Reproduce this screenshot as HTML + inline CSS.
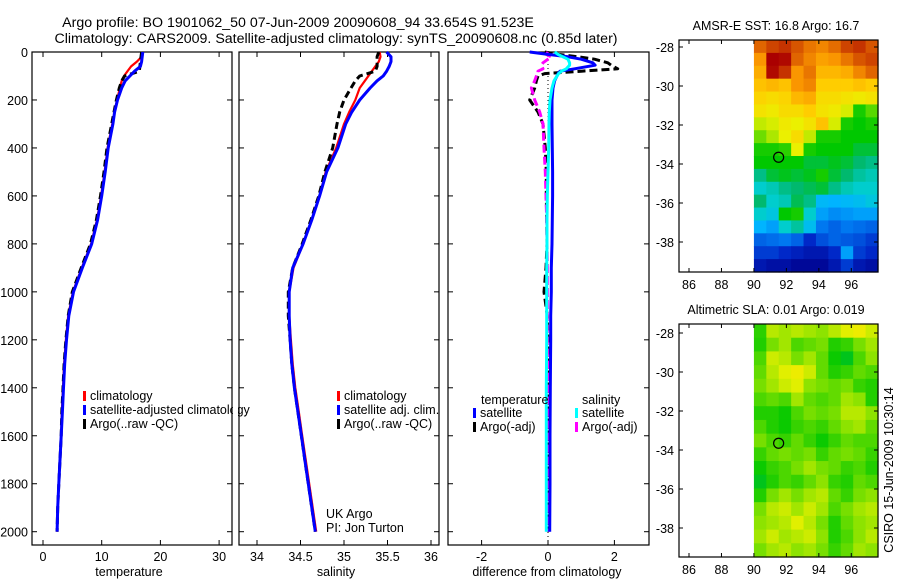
<!DOCTYPE html>
<html><head><meta charset="utf-8">
<style>
body{margin:0;background:#fff;}
svg{display:block;font-family:"Liberation Sans",sans-serif;}
text{fill:#000;}
</style></head>
<body>
<svg id="fig" width="900" height="580" viewBox="0 0 900 580" xmlns="http://www.w3.org/2000/svg">
<text x="298" y="27" font-size="14.2" text-anchor="middle">Argo profile: BO 1901062_50 07-Jun-2009 20090608_94 33.654S 91.523E</text>
<text x="336" y="43" font-size="14.2" text-anchor="middle">Climatology: CARS2009. Satellite-adjusted climatology: synTS_20090608.nc (0.85d later)</text>
<g id="plots"></g>
</svg>
<script>
// ---------- data ----------
const depthT = [0,20,40,60,80,100,120,150,200,250,300,400,500,600,700,800,900,1000,1100,1200,1300,1400,1500,1600,1700,1800,1900,2000];
const tempClim = [16.9,16.8,16.0,15.0,14.4,13.8,13.4,13.1,12.6,12.2,11.8,11.0,10.5,9.9,9.2,8.2,6.6,5.1,4.3,3.9,3.6,3.4,3.2,3.1,2.9,2.7,2.5,2.4];
const tempSat  = [17.0,16.9,16.8,16.6,15.6,14.8,14.0,13.4,12.7,12.2,11.9,11.1,10.6,10.0,9.3,8.3,6.7,5.2,4.4,4.0,3.7,3.5,3.3,3.1,2.9,2.7,2.5,2.4];
const tempArgo = [16.8,16.7,16.6,16.5,16.4,13.9,13.4,13.0,12.5,12.1,11.7,10.9,10.4,9.8,9.1,8.1,6.5,5.0,4.3,3.9,3.6,3.4,3.2,3.1,2.9,2.7,2.5,2.4];
const salClim = [35.41,35.42,35.40,35.36,35.32,35.28,35.24,35.18,35.13,35.06,35.00,34.91,34.79,34.72,34.63,34.53,34.42,34.37,34.37,34.39,34.41,34.44,34.48,34.52,34.56,34.60,34.64,34.68];
const salSat  = [35.49,35.54,35.54,35.52,35.49,35.45,35.38,35.30,35.18,35.09,35.02,34.93,34.80,34.72,34.63,34.53,34.41,34.37,34.37,34.38,34.40,34.43,34.47,34.51,34.55,34.59,34.63,34.67];
const salArgo = [35.40,35.38,35.38,35.38,35.36,35.18,35.13,35.08,35.00,34.95,34.92,34.87,34.78,34.71,34.62,34.52,34.41,34.36,34.36,34.38,34.40,34.43,34.47,34.51,34.55,34.59,34.63,34.67];
const depthD = [0,10,20,30,45,55,70,80,90,100,120,150,200,250,300,400,500,600,700,800,900,1000,1100,1200,1400,1600,1800,2000];
const dTempSat = [-0.55,0.0,0.6,1.0,1.35,1.42,0.8,0.36,0.3,0.27,0.2,0.15,0.12,0.12,0.12,0.13,0.14,0.14,0.13,0.12,0.1,0.1,0.08,0.08,0.07,0.06,0.06,0.05];
const dTempArgo = [-0.1,0.3,0.9,1.4,1.8,1.9,2.1,1.0,-0.1,-0.3,-0.35,-0.4,-0.55,-0.3,-0.15,-0.08,-0.05,-0.05,-0.04,-0.03,-0.06,-0.12,-0.02,0.0,0.01,0.02,0.0,0.0];
const dSalSat = [0.2,0.3,0.45,0.6,0.65,0.65,0.55,0.4,0.32,0.27,0.18,0.12,0.06,0.04,0.03,0.02,0.0,-0.02,-0.03,-0.03,-0.04,-0.04,-0.04,-0.04,-0.05,-0.05,-0.05,-0.05];
const dSalArgo = [0.0,-0.05,0.1,0.0,-0.15,-0.2,-0.15,-0.3,-0.3,-0.35,-0.4,-0.5,-0.4,-0.25,-0.15,-0.12,-0.08,-0.06,-0.04,-0.03,-0.02,-0.02,-0.02,-0.02,-0.01,-0.01,0.0,0.0];
const depthTicks = [0,200,400,600,800,1000,1200,1400,1600,1800,2000];
const tempTicks = [0,10,20,30];
const salTicks = [34,34.5,35,35.5,36];
const diffTicks = [-2,0,2];
const lonTicks = [86,88,90,92,94,96];
const latTicks = [-28,-30,-32,-34,-36,-38];
const sstGrid = [
[0.86,0.90,0.92,0.88,0.84,0.82,0.85,0.90,0.92,0.88],
[0.80,0.98,0.97,0.86,0.82,0.78,0.80,0.84,0.88,0.90],
[0.76,0.97,0.92,0.80,0.84,0.74,0.74,0.76,0.82,0.86],
[0.72,0.74,0.72,0.80,0.82,0.70,0.70,0.70,0.72,0.70],
[0.68,0.66,0.68,0.74,0.76,0.66,0.66,0.64,0.62,0.64],
[0.64,0.62,0.66,0.66,0.70,0.64,0.62,0.58,0.40,0.46],
[0.56,0.58,0.62,0.60,0.64,0.72,0.58,0.40,0.38,0.40],
[0.48,0.54,0.60,0.66,0.56,0.40,0.40,0.38,0.38,0.38],
[0.40,0.40,0.42,0.60,0.40,0.38,0.38,0.38,0.36,0.36],
[0.38,0.38,0.38,0.38,0.36,0.36,0.37,0.36,0.34,0.33],
[0.33,0.36,0.37,0.36,0.37,0.40,0.36,0.34,0.32,0.31],
[0.30,0.31,0.33,0.34,0.35,0.36,0.33,0.31,0.30,0.30],
[0.34,0.30,0.31,0.35,0.33,0.25,0.24,0.25,0.26,0.28],
[0.30,0.28,0.38,0.40,0.30,0.22,0.20,0.21,0.22,0.22],
[0.24,0.22,0.30,0.32,0.26,0.18,0.16,0.18,0.17,0.16],
[0.16,0.17,0.18,0.16,0.10,0.14,0.16,0.15,0.14,0.12],
[0.12,0.12,0.10,0.09,0.08,0.08,0.10,0.22,0.12,0.10],
[0.08,0.07,0.07,0.06,0.06,0.06,0.08,0.12,0.08,0.07]];
const slaGrid = [
[0.45,0.58,0.56,0.58,0.56,0.54,0.58,0.62,0.64,0.60],
[0.44,0.52,0.56,0.48,0.50,0.52,0.44,0.46,0.52,0.56],
[0.48,0.60,0.58,0.52,0.56,0.50,0.42,0.40,0.48,0.54],
[0.50,0.58,0.62,0.64,0.60,0.50,0.44,0.46,0.50,0.48],
[0.52,0.56,0.60,0.62,0.54,0.52,0.50,0.52,0.46,0.44],
[0.48,0.50,0.48,0.56,0.50,0.48,0.50,0.56,0.54,0.44],
[0.44,0.44,0.42,0.48,0.52,0.50,0.52,0.58,0.58,0.54],
[0.48,0.44,0.42,0.46,0.48,0.46,0.50,0.54,0.56,0.50],
[0.52,0.48,0.46,0.50,0.46,0.42,0.46,0.50,0.48,0.48],
[0.46,0.50,0.52,0.50,0.52,0.46,0.50,0.52,0.50,0.46],
[0.42,0.46,0.48,0.52,0.56,0.52,0.50,0.46,0.48,0.44],
[0.40,0.44,0.48,0.46,0.50,0.54,0.46,0.44,0.50,0.48],
[0.44,0.52,0.56,0.52,0.56,0.58,0.50,0.46,0.52,0.54],
[0.52,0.58,0.60,0.56,0.60,0.56,0.48,0.52,0.56,0.58],
[0.54,0.56,0.58,0.62,0.58,0.52,0.44,0.50,0.54,0.56],
[0.56,0.60,0.56,0.58,0.60,0.54,0.44,0.48,0.54,0.58],
[0.52,0.56,0.58,0.54,0.56,0.52,0.46,0.50,0.56,0.54]];
const argoLon = 91.523, argoLat = -33.654;

const NS='http://www.w3.org/2000/svg';
const root=document.getElementById('plots');
function el(tag,attrs,parent){const e=document.createElementNS(NS,tag);for(const k in attrs)e.setAttribute(k,attrs[k]);(parent||root).appendChild(e);return e;}
function txt(x,y,s,size,anchor,parent){const t=el('text',{x:x,y:y,'font-size':size,'text-anchor':anchor||'start'},parent);t.textContent=s;return t;}

const Y0=52,Y1=545;
function yD(d){return 52+d*0.23985;}

function profilePanel(name,x0,x1,xs,ticks,fmt,label,labelX){
  const g=el('g',{});
  
  
  el('rect',{x:x0,y:Y0,width:x1-x0,height:Y1-Y0,fill:'none',stroke:'#000','stroke-width':1.2},g);
  for(const d of depthTicks){const y=yD(d);
    el('line',{x1:x0,y1:y,x2:x0+5,y2:y,stroke:'#000'},g);
    el('line',{x1:x1,y1:y,x2:x1-5,y2:y,stroke:'#000'},g);}
  for(const v of ticks){const x=xs(v);
    el('line',{x1:x,y1:Y1,x2:x,y2:Y1-5,stroke:'#000'},g);
    el('line',{x1:x,y1:Y0,x2:x,y2:Y0+5,stroke:'#000'},g);
    const t=txt(x,561,fmt(v),12.5,'middle',g);
    
    }
  const l=txt(labelX,576,label,12.5,'middle',g);
  
  
  return g;
}
function series(g,depths,vals,xs,color,w,dash,name){
  const pts=depths.map((d,i)=>xs(vals[i]).toFixed(1)+','+yD(d).toFixed(1)).join(' ');
  const p=el('polyline',{points:pts,fill:'none',stroke:color,'stroke-width':w,'stroke-linejoin':'round'},g);
  if(dash)p.setAttribute('stroke-dasharray',dash);
  
  
}
function legendEntry(g,x,y,color,label){
  el('rect',{x:x,y:y-9,width:3,height:10,fill:color},g);
  const t=txt(x+7,y,label,12.5,'start',g);
  
  
}

for(const d of depthTicks){const t=txt(28,yD(d)+5,String(d),12.5,'end');
  
  }

const xT=v=>43+v*5.87;
const g1=profilePanel('temperature-panel',32,232,xT,tempTicks,String,'temperature',129);
series(g1,depthT,tempClim,xT,'#ff0000',2.2,null,'climatology-temperature-line');
series(g1,depthT,tempArgo,xT,'#000',3,'7,4','argo-temperature-line');
series(g1,depthT,tempSat,xT,'#0000ff',3,null,'satellite-temperature-line');
legendEntry(g1,83,400,'#ff0000','climatology');
legendEntry(g1,83,414,'#0000ff','satellite-adjusted climatology');
legendEntry(g1,83,428,'#000','Argo(..raw -QC)');
el('rect',{x:233,y:402,width:5,height:16,fill:'#fff'});

const xS=v=>257+(v-34)*87;
const g2=profilePanel('salinity-panel',239,439,xS,salTicks,String,'salinity',336);
series(g2,depthT,salClim,xS,'#ff0000',2.2,null,'climatology-salinity-line');
series(g2,depthT,salArgo,xS,'#000',3,'7,4','argo-salinity-line');
series(g2,depthT,salSat,xS,'#0000ff',3,null,'satellite-salinity-line');
legendEntry(g2,337,400,'#ff0000','climatology');
legendEntry(g2,337,414,'#0000ff','satellite adj. clim.');
legendEntry(g2,337,428,'#000','Argo(..raw -QC)');
txt(326,518,'UK Argo',12.5,'start',g2);
txt(326,532,'PI: Jon Turton',12.5,'start',g2);

const xDf=v=>548+v*33.2;
const g3=profilePanel('difference-panel',448,649,xDf,diffTicks,String,'difference from climatology',547);
el('line',{x1:xDf(0),y1:Y0,x2:xDf(0),y2:Y1,stroke:'#000','stroke-dasharray':'1,3'},g3);
series(g3,depthD,dTempArgo,xDf,'#000',3,'8,4','argo-temperature-diff-line');
series(g3,depthD,dSalArgo,xDf,'#ff00ff',3,'8,4','argo-salinity-diff-line');
series(g3,depthD,dTempSat,xDf,'#0000ff',3,null,'satellite-temperature-diff-line');
series(g3,depthD,dSalSat,xDf,'#00ffff',3,null,'satellite-salinity-diff-line');
txt(481,404,'temperature',12.5,'start',g3);
txt(582,404,'salinity',12.5,'start',g3);
legendEntry(g3,473,417,'#0000ff','satellite');
legendEntry(g3,473,431,'#000','Argo(-adj)');
legendEntry(g3,575,417,'#00ffff','satellite');
legendEntry(g3,575,431,'#ff00ff','Argo(-adj)');

const cmapStops=[[0.05,[0,0,140]],[0.1,[0,40,200]],[0.18,[0,120,240]],[0.24,[0,180,255]],[0.3,[0,205,205]],[0.34,[0,185,110]],[0.38,[0,200,0]],[0.5,[130,225,0]],[0.6,[235,240,0]],[0.7,[255,205,0]],[0.8,[250,150,0]],[0.88,[215,85,0]],[0.98,[170,0,0]]];
function cmap(f){
  if(f<=cmapStops[0][0])return 'rgb('+cmapStops[0][1].join(',')+')';
  for(let i=1;i<cmapStops.length;i++){
    if(f<=cmapStops[i][0]){const a=cmapStops[i-1],b=cmapStops[i];const t=(f-a[0])/(b[0]-a[0]);
      return 'rgb('+a[1].map((v,k)=>Math.round(v+(b[1][k]-v)*t)).join(',')+')';}}
  return 'rgb('+cmapStops[cmapStops.length-1][1].join(',')+')';
}
const slaScale=f=>0.38+(f-0.41)*1.0;
const idScale=f=>f;

function mapPanel(name,top,bottom,latRef,grid,title,scale){
  const left=679,right=878;
  const xL=lon=>689+(lon-86)*16.23;
  const yL=lat=>latRef+(-28-lat)*19.5;
  const g=el('g',{});
  
  
  const t=txt(776,top-10,title,12.5,'middle',g);
  
  
  const x0=xL(90), rows=grid.length, cols=grid[0].length;
  const cw=(right-x0)/cols, ch=(bottom-top)/rows;
  const cg=el('g',{},g);
  
  
  for(let r=0;r<rows;r++)for(let c=0;c<cols;c++){
    el('rect',{x:x0+c*cw,y:top+r*ch,width:cw+0.6,height:ch+0.6,fill:cmap(scale(grid[r][c]))},cg);}
  el('rect',{x:left,y:top,width:right-left,height:bottom-top,fill:'none',stroke:'#000','stroke-width':1.2},g);
  for(const lo of lonTicks){const x=xL(lo);
    el('line',{x1:x,y1:bottom,x2:x,y2:bottom-4,stroke:'#000'},g);
    el('line',{x1:x,y1:top,x2:x,y2:top+4,stroke:'#000'},g);
    const l=txt(x,bottom+17,String(lo),12.5,'middle',g);
    }
  for(const la of latTicks){const y=yL(la);
    el('line',{x1:left,y1:y,x2:left+4,y2:y,stroke:'#000'},g);
    el('line',{x1:right,y1:y,x2:right-4,y2:y,stroke:'#000'},g);
    const l=txt(674,y+5,String(la),12.5,'end',g);
    }
  const m=el('circle',{cx:xL(argoLon),cy:yL(argoLat),r:5,fill:'none',stroke:'#000','stroke-width':1.2},g);
  
  
}
mapPanel('sst-map',40,272,47,sstGrid,'AMSR-E SST: 16.8 Argo: 16.7',idScale);
mapPanel('sla-map',324,557,333,slaGrid,'Altimetric SLA: 0.01 Argo: 0.019',slaScale);
const cr=txt(0,0,'CSIRO 15-Jun-2009 10:30:14',12.5,'middle');
cr.setAttribute('transform','translate(893,470) rotate(-90)');


</script>
</body></html>
